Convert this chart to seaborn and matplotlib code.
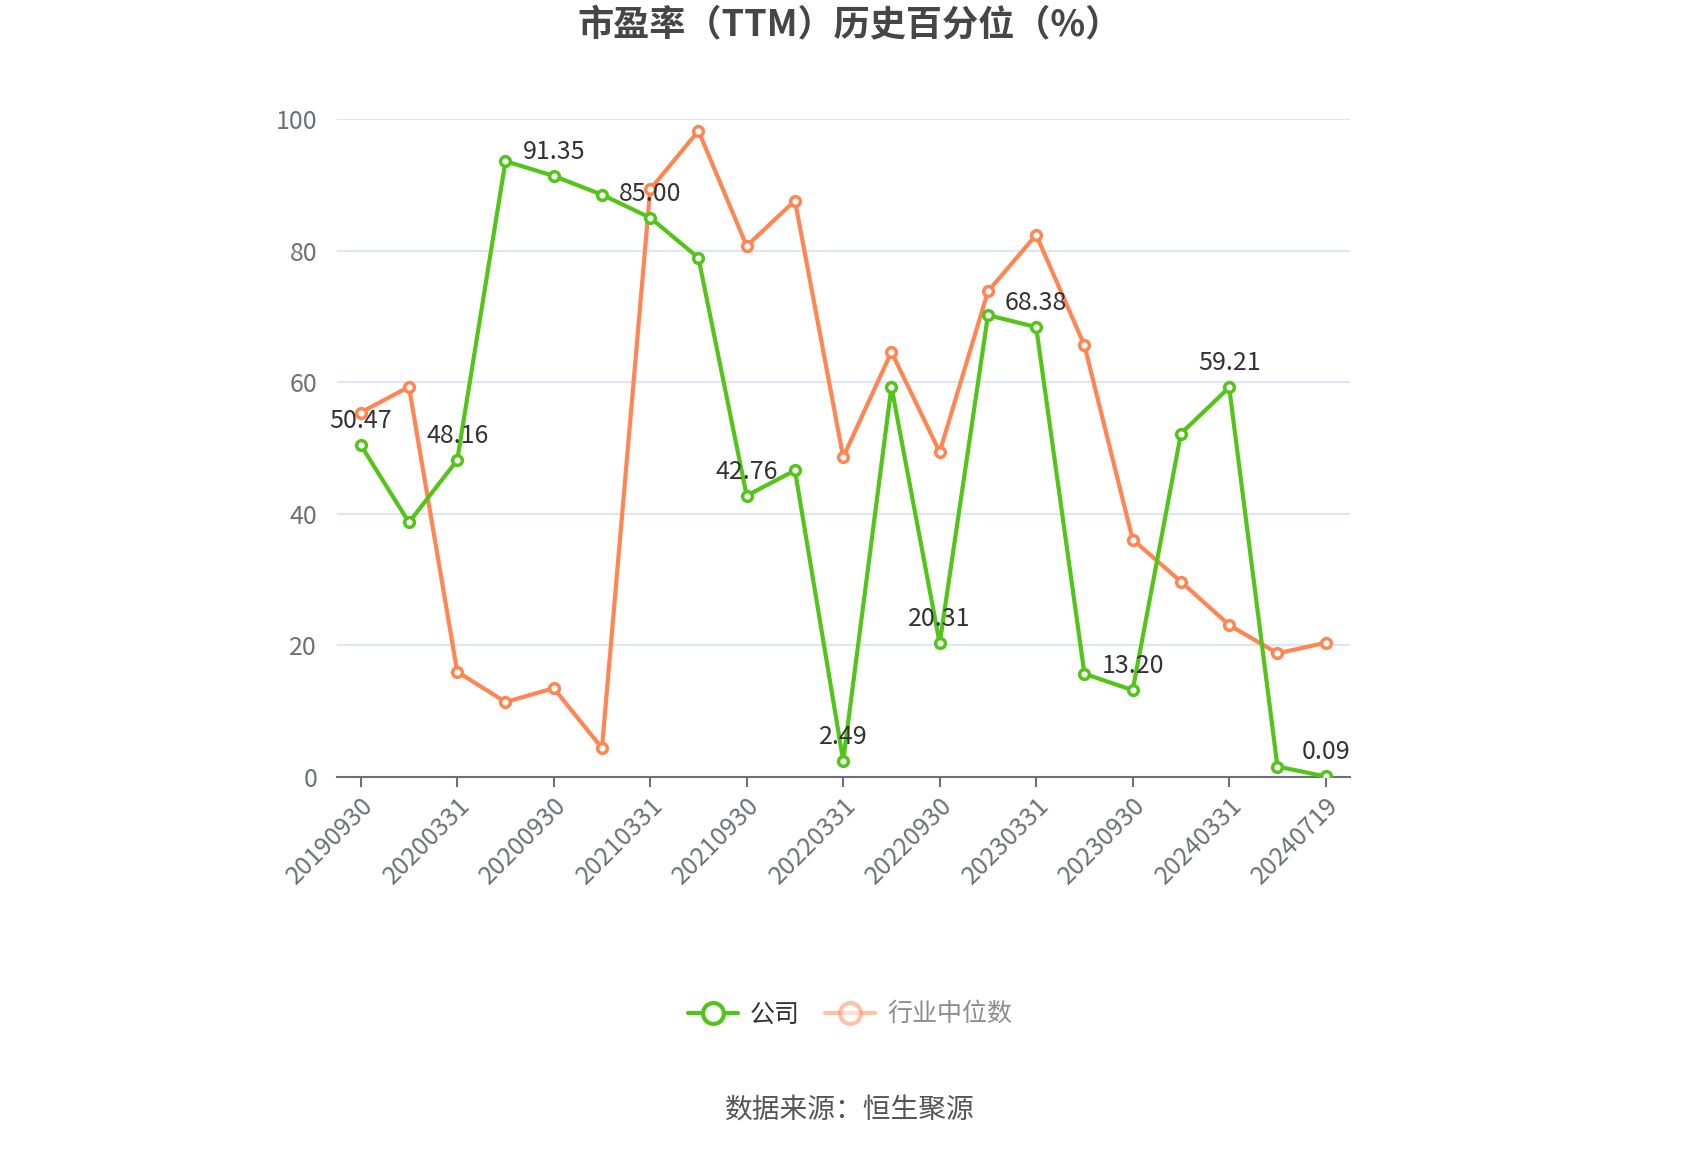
import matplotlib
matplotlib.use("Agg")
import matplotlib.pyplot as plt
import seaborn as sns
import pandas as pd
from matplotlib.lines import Line2D

dates = ["20190930", "20191231", "20200331", "20200630", "20200930", "20201231",
         "20210331", "20210630", "20210930", "20211231", "20220331", "20220630",
         "20220930", "20221231", "20230331", "20230630", "20230930", "20231231",
         "20240331", "20240630", "20240719"]
company = [50.47, 38.7, 48.16, 93.6, 91.35, 88.5, 85.00, 78.9, 42.76, 46.6, 2.49,
           59.3, 20.31, 70.2, 68.38, 15.7, 13.20, 52.2, 59.21, 1.6, 0.09]
industry = [55.4, 59.3, 16.0, 11.4, 13.5, 4.4, 89.3, 98.2, 80.7, 87.6, 48.6,
            64.6, 49.4, 73.8, 82.4, 65.6, 36.1, 29.7, 23.1, 18.8, 20.4]
yticks = [0, 20, 40, 60, 80, 100]
title = "市盈率（TTM）历史百分位（%）"
source = "数据来源：恒生聚源"
names = ["公司", "行业中位数"]

sns.set_theme(style="white")
plt.rcParams['font.family'] = ['Noto Sans CJK SC', 'DejaVu Sans']

GREEN = "#52C41A"
ORANGE = "#FF8552"

fig = plt.figure(figsize=(17, 11.5), dpi=100)
ax = fig.add_axes([0.198, 0.3243, 0.596, 0.5722])

pos = list(range(len(dates)))
df = pd.DataFrame({"x": pos, "company": company, "industry": industry})

sns.lineplot(data=df, x="x", y="industry", ax=ax, color=ORANGE, linewidth=3,
             marker="o", markersize=7, markerfacecolor="white",
             markeredgecolor=ORANGE, markeredgewidth=2.5, zorder=3)
sns.lineplot(data=df, x="x", y="company", ax=ax, color=GREEN, linewidth=3,
             marker="o", markersize=7, markerfacecolor="white",
             markeredgecolor=GREEN, markeredgewidth=2.5, zorder=4)

ax.set_xlim(-0.5, len(dates) - 0.5)
ax.set_ylim(0, 100)
ax.set_yticks(yticks)
ax.set_yticklabels([str(v) for v in yticks], fontsize=18, color="#6E7079")
ax.tick_params(axis="y", length=0, pad=14)
for v in yticks[1:]:
    ax.axhline(v, color="#E0E6F1", linewidth=1.5, zorder=0)

tick_idx = list(range(0, len(dates), 2))
ax.set_xticks(tick_idx)
ax.set_xticklabels([dates[i] for i in tick_idx], rotation=45, ha="right",
                   rotation_mode="anchor", fontsize=18, color="#6E7079")
ax.tick_params(axis="x", length=7, width=1.5, color="#6E7079", direction="out",
               pad=4, bottom=True)
ax.set_xlabel("")
ax.set_ylabel("")
for s in ["top", "right", "left"]:
    ax.spines[s].set_visible(False)
ax.spines["bottom"].set_color("#6E7079")
ax.spines["bottom"].set_linewidth(1.5)
ax.spines["bottom"].set_zorder(2)

for i in tick_idx:
    ax.annotate(f"{company[i]:.2f}", (i, company[i]), xytext=(0, 8),
                textcoords="offset points", ha="center", va="bottom",
                fontsize=18, color="#333333", zorder=5)

fig.text(0.5, 0.978, title, ha="center", va="center", fontsize=26,
         fontweight="bold", color="#464646")

handles = [
    Line2D([0], [0], color=GREEN, linewidth=3, marker="o", markersize=15,
           markerfacecolor="white", markeredgecolor=GREEN, markeredgewidth=3),
    Line2D([0], [0], color=ORANGE, linewidth=3, marker="o", markersize=15,
           markerfacecolor="white", markeredgecolor=ORANGE, markeredgewidth=3,
           alpha=0.5),
]
leg = fig.legend(handles, names, loc="center", bbox_to_anchor=(0.5, 0.118),
                 ncol=2, frameon=False, fontsize=18, handlelength=2.0,
                 columnspacing=1.0, handletextpad=0.5)
leg.get_texts()[0].set_color("#333333")
leg.get_texts()[1].set_color("#8C8C8C")

fig.text(0.5, 0.034, source, ha="center", va="center", fontsize=20,
         color="#555555")

fig.savefig("out.png", dpi=100, facecolor="white")
